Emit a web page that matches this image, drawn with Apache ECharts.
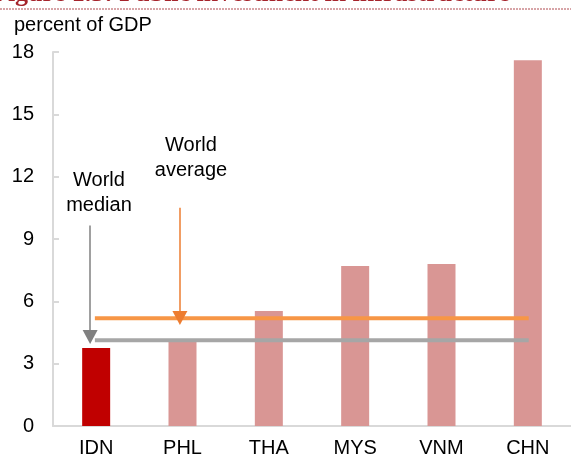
<!DOCTYPE html>
<html>
<head>
<meta charset="utf-8">
<script src="https://cdn.jsdelivr.net/npm/echarts@6/dist/echarts.min.js"></script>
<style>
  html, body { margin: 0; padding: 0; background: #fff; }
  #chart { width: 571px; height: 459px; }
</style>
</head>
<body>
<div id="chart"></div>
<script>
// data
const countries = ['IDN', 'PHL', 'THA', 'MYS', 'VNM', 'CHN']
const investment = [3.75, 4.1, 5.53, 7.7, 7.8, 17.6]
const yTicks = [0, 3, 6, 9, 12, 15, 18]
const worldMedian = 4.13
const worldAverage = 5.18
// annotation arrows: [x on 0..6 scale, y start, y tip]
const medianArrow = [0.43, 9.65, 4.28]
const averageArrow = [1.47, 10.5, 5.2]
const refLineSpan = [0.485, 5.51]

const chart = echarts.init(document.getElementById('chart'))
const font = 'Arial, "Liberation Sans", sans-serif'

function refLine(value, color) {
    return {
        type: 'line',
        xAxisIndex: 1,
        data: [[refLineSpan[0], value], [refLineSpan[1], value]],
        symbol: 'none',
        lineStyle: { color: color, width: 4 },
        silent: true,
        z: 3,
    }
}

function arrow(a, color, width) {
    return {
        type: 'line',
        xAxisIndex: 1,
        data: [],
        silent: true,
        z: 4,
        markLine: {
            silent: true,
            symbol: ['none', 'triangle'],
            symbolSize: [15, 14],
            label: { show: false },
            lineStyle: { color: color, width: width, type: 'solid' },
            data: [[{ coord: [a[0], a[1]] }, { coord: [a[0], a[2]] }]],
        },
    }
}

let option = {
    animation: false,
    title: {
        text: 'percent of GDP',
        left: 9,
        top: 10,
        textStyle: { fontFamily: font, fontSize: 20, fontWeight: 'normal', color: '#000' },
    },
    graphic: [
        {
            type: 'text',
            left: -8,
            top: -19,
            style: {
                text: 'Figure 1.3: Public investment in infrastructure',
                font: 'bold 26px "Liberation Serif", serif',
                fill: '#A5232B',
            },
        },
        {
            type: 'line',
            shape: { x1: 0, y1: 9, x2: 571, y2: 9 },
            style: { stroke: '#B04A50', lineWidth: 1, lineDash: [2, 1] },
        },
        {
            type: 'text',
            x: 99,
            y: 168,
            style: {
                text: 'World\nmedian',
                font: '20px Arial, "Liberation Sans", sans-serif',
                fill: '#000',
                align: 'center',
                lineHeight: 25,
            },
        },
        {
            type: 'text',
            x: 191,
            y: 133,
            style: {
                text: 'World\naverage',
                font: '20px Arial, "Liberation Sans", sans-serif',
                fill: '#000',
                align: 'center',
                lineHeight: 25,
            },
        },
    ],
    grid: { left: 53, right: -2, top: 52, bottom: 33 },
    xAxis: [
        {
            type: 'category',
            data: countries,
            axisLine: { lineStyle: { color: '#D9D9D9', width: 2 } },
            axisTick: { inside: true, length: 6, lineStyle: { color: '#D9D9D9', width: 2 } },
            axisLabel: { color: '#000', fontSize: 20, fontFamily: font, margin: 12 },
        },
        { type: 'value', min: 0, max: 6, show: false },
    ],
    yAxis: {
        type: 'value',
        min: yTicks[0],
        max: yTicks[yTicks.length - 1],
        interval: 3,
        axisLine: { show: true, lineStyle: { color: '#D9D9D9', width: 2 } },
        axisTick: { show: true, inside: true, length: 6, lineStyle: { color: '#D9D9D9', width: 2 } },
        axisLabel: { color: '#000', fontSize: 20, fontFamily: font, margin: 19 },
        splitLine: { show: false },
    },
    series: [
        {
            type: 'bar',
            barWidth: 28,
            data: investment.map((v, i) => ({
                value: v,
                itemStyle: { color: i === 0 ? '#C00000' : '#D99694' },
            })),
            z: 2,
        },
        refLine(worldMedian, '#A6A6A6'),
        refLine(worldAverage, '#F79646'),
        arrow(medianArrow, '#808080', 1.5),
        arrow(averageArrow, '#ED7D31', 1.5),
    ],
}

chart.setOption(option)
</script>
</body>
</html>
